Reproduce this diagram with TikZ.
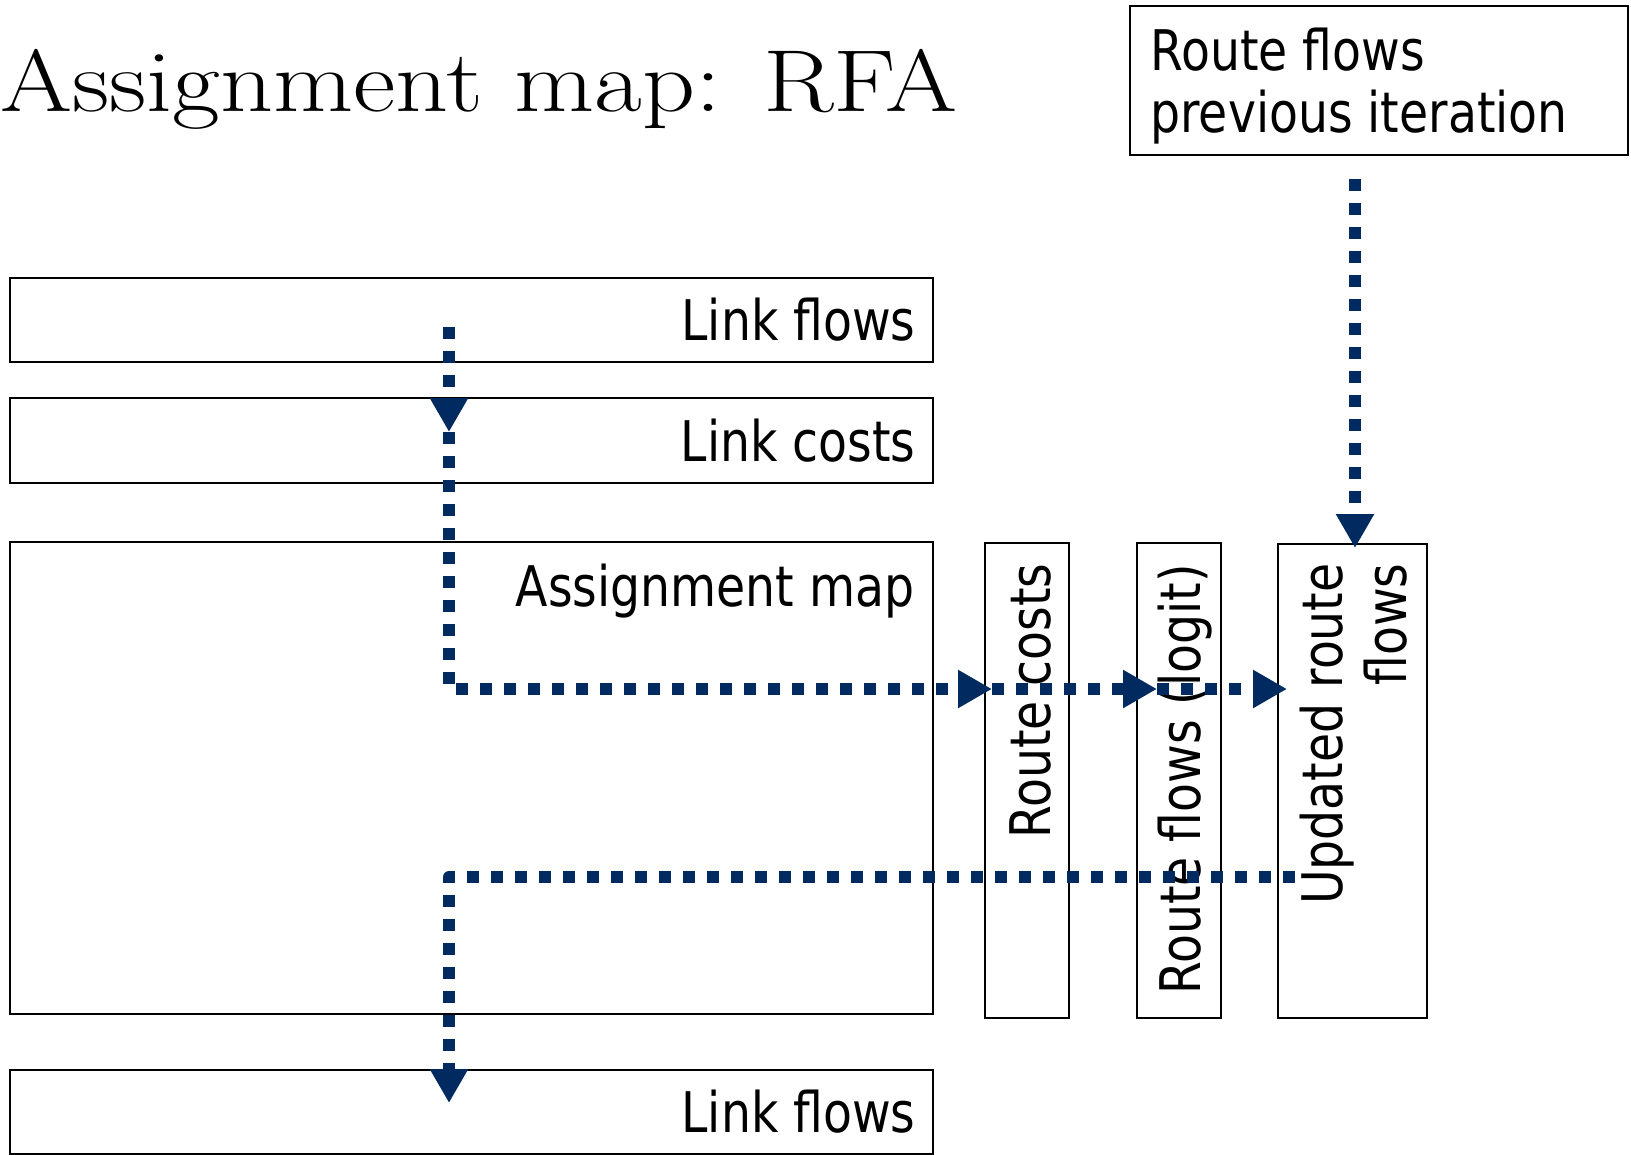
\documentclass[tikz,border=0pt]{standalone}
\usepackage{fontspec}
\usepackage{tikz}
\usetikzlibrary{arrows.meta}
\newfontfamily\boxfont{DejaVu Sans}[FakeStretch=0.845]
\definecolor{flowblue}{RGB}{0,42,96}

\begin{document}
\begin{tikzpicture}[x=0.5pt, y=-0.5pt,
  box/.style = {draw, line width=1pt, inner sep=0pt},
  lbl/.style = {inner sep=0pt, font=\boxfont\fontsize{28}{32}\selectfont},
  flow/.style = {flowblue, line width=6pt, dash pattern=on 6pt off 6pt, line join=round,
                 -{Triangle[width=18pt, length=17pt]}}]
  \useasboundingbox (0,0) rectangle (1631,1155);

  \node[anchor=base west, inner sep=0pt, font=\fontsize{44}{50}\selectfont, xscale=1.18, transform shape] (title) at (0,112) {Assignment map: RFA};

  % boxes on the left
  \node[box, minimum width=461.5pt, minimum height=42pt] (lfIn) at (471.5,320) {};
  \node[box, minimum width=461.5pt, minimum height=42.5pt] (lc) at (471.5,440.5) {};
  \node[box, minimum width=461.5pt, minimum height=236pt] (am) at (471.5,778) {};
  \node[box, minimum width=461.5pt, minimum height=42pt] (lfOut) at (471.5,1112) {};
  \node[lbl, anchor=east] (lfInTxt) at ([xshift=-9pt]lfIn.east) {Link flows};
  \node[lbl, anchor=east] (lcTxt) at ([xshift=-9pt]lc.east) {Link costs};
  \node[lbl, anchor=base east] (amTxt) at (915,606) {Assignment map};
  \node[lbl, anchor=east] (lfOutTxt) at ([xshift=-9pt]lfOut.east) {Link flows};

  % route boxes
  \node[box, minimum width=42pt, minimum height=237.5pt] (rc) at (1027,780.5) {};
  \node[box, minimum width=42pt, minimum height=237.5pt] (rfl) at (1179,780.5) {};
  \node[box, minimum width=74.5pt, minimum height=237pt] (urf) at (1352.5,781) {};
  \node[box, minimum width=249pt, minimum height=74.5pt] (prev) at (1379,80.5) {};
  \node[lbl, rotate=90, anchor=base east] (rcTxt) at (1050,563) {Route costs};
  \node[lbl, rotate=90, anchor=base east] (rflTxt) at (1200,564) {Route flows (logit)};
  \node[lbl, rotate=90, anchor=north east, align=right] (urfTxt) at (1300,563) {Updated route\\flows};
  \node[lbl, anchor=north west, align=left, font=\boxfont\fontsize{28}{31}\selectfont] (prevTxt) at (1150,28) {Route flows\\previous iteration};

  \coordinate (lfSrc) at (449,327);
  \coordinate (lcIn) at (449,432);
  \coordinate (rcIn) at (992,689);
  \coordinate (rflIn) at (1157,689);
  \coordinate (urfIn) at (1287,689);
  \coordinate (prevSrc) at (1355,179);
  \coordinate (urfTop) at (1355,548);
  \coordinate (urfOut) at (1295,877);
  \coordinate (lfOutIn) at (449,1103);

  \draw[flow] (lfSrc) -- (lcIn);
  \draw[flow] (lcIn) |- (rcIn);
  \draw[flow] (rcIn) -- (rflIn);
  \draw[flow] (rflIn) -- (urfIn);
  \draw[flow] (prevSrc) -- (urfTop);
  \draw[flow] (urfOut) -| (lfOutIn);
\end{tikzpicture}
\end{document}
